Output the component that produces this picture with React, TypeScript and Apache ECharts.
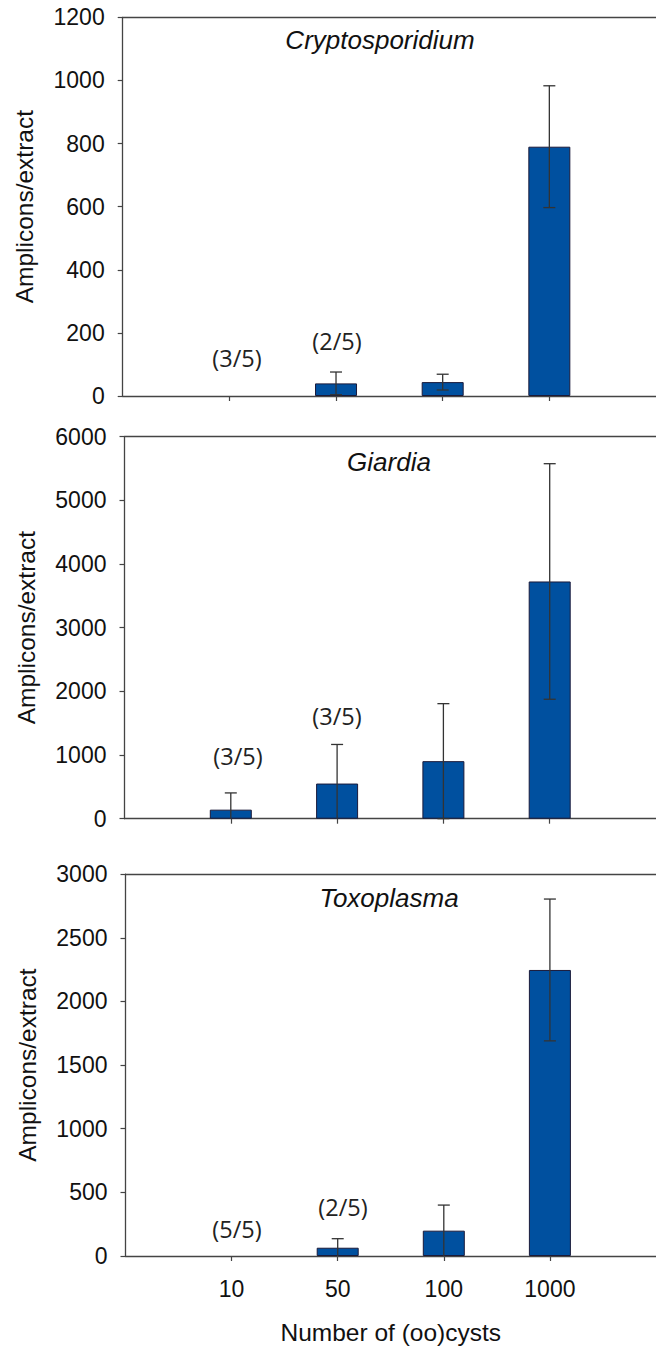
import React, { useEffect, useRef } from "react";
import * as echarts from "echarts";

// ---- data ----
const categories = ["10", "50", "100", "1000"];
const categoryPositions = [1, 2, 3, 4];

const cryptoMeans = [0, 40, 44, 790];
const cryptoErrors = [0, 36, 25, 193];
const cryptoNotes = ["(3/5)", "(2/5)", "", ""];

const giardiaMeans = [142, 552, 904, 3726];
const giardiaErrors = [263, 614, 903, 1850];
const giardiaNotes = ["(3/5)", "(3/5)", "", ""];

const toxoMeans = [0, 65, 199, 2247];
const toxoErrors = [0, 71, 201, 557];
const toxoNotes = ["(5/5)", "(2/5)", "", ""];

const panelTitles = ["Cryptosporidium", "Giardia", "Toxoplasma"];
const yMax = [1200, 6000, 3000];
const yStep = [200, 1000, 500];

const yAxisName = "Amplicons/extract";
const xAxisName = "Number of (oo)cysts";

// ---- layout ----
const W = 656;
const H = 1346;
const grids = [
  { left: 122.7, top: 17.3, width: 536.5, height: 378.7 },
  { left: 124.5, top: 436.7, width: 540, height: 382 },
  { left: 125.5, top: 874.1, width: 543, height: 382.6 },
];
const titlePos = [
  [380, 40],
  [389, 462],
  [389, 898],
];
const notePos = [
  [
    [237, 358],
    [337, 341],
  ],
  [
    [238, 756],
    [337, 716],
  ],
  [
    [237, 1229],
    [343, 1207],
  ],
];

const BAR_COLOR = "#00509f";
const AXIS_COLOR = "#444";
const SANS = "Liberation Sans, Arial, sans-serif";

export default function App() {
  const ref = useRef<HTMLDivElement>(null);

  useEffect(() => {
    if (!ref.current) return;
    const chart = echarts.init(ref.current, null, { renderer: "svg" });

    const panels = [
      { means: cryptoMeans, errs: cryptoErrors, notes: cryptoNotes },
      { means: giardiaMeans, errs: giardiaErrors, notes: giardiaNotes },
      { means: toxoMeans, errs: toxoErrors, notes: toxoNotes },
    ];

    const xAxes: any[] = [];
    const yAxes: any[] = [];
    const series: any[] = [];
    const graphics: any[] = [];

    panels.forEach((p, i) => {
      const last = i === panels.length - 1;
      xAxes.push({
        type: "value",
        gridIndex: i,
        min: 0,
        max: 5,
        interval: 1,
        position: "bottom",
        splitLine: { show: false },
        axisLine: { show: true, lineStyle: { color: AXIS_COLOR, width: 1.3 } },
        axisTick: {
          show: true,
          length: 5,
          customValues: categoryPositions,
          lineStyle: { color: AXIS_COLOR, width: 1.2 },
        },
        axisLabel: {
          show: last,
          customValues: categoryPositions,
          margin: 21,
          fontSize: 23,
          fontFamily: SANS,
          color: "#111",
          formatter: (v: number) => {
            const idx = categoryPositions.indexOf(v);
            return idx >= 0 ? categories[idx] : "";
          },
        },
        name: last ? xAxisName : "",
        nameLocation: "middle",
        nameGap: 64,
        nameTextStyle: { fontSize: 24.5, fontFamily: SANS, color: "#111" },
      });
      xAxes.push({
        type: "value",
        gridIndex: i,
        min: 0,
        max: 5,
        position: "top",
        splitLine: { show: false },
        axisLine: { show: true, lineStyle: { color: AXIS_COLOR, width: 1.3 } },
        axisTick: { show: false },
        axisLabel: { show: false },
      });
      yAxes.push({
        type: "value",
        gridIndex: i,
        min: 0,
        max: yMax[i],
        interval: yStep[i],
        splitLine: { show: false },
        axisLine: { show: true, lineStyle: { color: AXIS_COLOR, width: 1.3 } },
        axisTick: { show: true, length: 5, lineStyle: { color: AXIS_COLOR, width: 1.2 } },
        axisLabel: {
          margin: 18,
          fontSize: 23,
          fontFamily: SANS,
          color: "#111",
          formatter: (v: number) => String(v),
        },
        name: yAxisName,
        nameLocation: "middle",
        nameGap: 86,
        nameTextStyle: { fontSize: 24.5, fontFamily: SANS, color: "#111" },
      });

      series.push({
        type: "bar",
        xAxisIndex: 2 * i,
        yAxisIndex: i,
        barWidth: 42,
        itemStyle: { color: BAR_COLOR, borderColor: "#1a1a3a", borderWidth: 1 },
        data: categoryPositions
          .map((x, k) => [x, p.means[k]])
          .filter((d) => d[1] > 0),
      });

      series.push({
        type: "custom",
        xAxisIndex: 2 * i,
        yAxisIndex: i,
        clip: false,
        z: 5,
        data: categoryPositions
          .map((x, k) => [x, p.means[k], p.errs[k]])
          .filter((d) => d[2] > 0),
        renderItem: (params: any, api: any) => {
          const x = api.value(0);
          const m = api.value(1);
          const e = api.value(2);
          const lowVal = Math.max(0, m - e);
          const hi = api.coord([x, m + e]);
          const lo = api.coord([x, lowVal]);
          const style = { stroke: "#333", lineWidth: 1.3 };
          const cap = 6;
          const children: any[] = [
            { type: "line", shape: { x1: hi[0], y1: hi[1], x2: lo[0], y2: lo[1] }, style },
            { type: "line", shape: { x1: hi[0] - cap, y1: hi[1], x2: hi[0] + cap, y2: hi[1] }, style },
          ];
          if (m - e > 0) {
            children.push({
              type: "line",
              shape: { x1: lo[0] - cap, y1: lo[1], x2: lo[0] + cap, y2: lo[1] },
              style,
            });
          }
          return { type: "group", children };
        },
      });

      graphics.push({
        type: "text",
        x: titlePos[i][0],
        y: titlePos[i][1],
        style: {
          text: panelTitles[i],
          fontSize: 26,
          fontStyle: "italic",
          fontFamily: SANS,
          fill: "#111",
          textAlign: "center",
          textVerticalAlign: "middle",
        },
      });

      let n = 0;
      p.notes.forEach((note) => {
        if (!note) return;
        const pos = notePos[i][n++];
        graphics.push({
          type: "text",
          x: pos[0],
          y: pos[1],
          style: {
            text: note,
            fontSize: 23.5,
            fontFamily: "Open Sans, Noto Sans, sans-serif",
            fill: "#222",
            textAlign: "center",
            textVerticalAlign: "middle",
          },
        });
      });
    });

    chart.setOption({
      animation: false,
      backgroundColor: "#fff",
      grid: grids.map((g) => ({ ...g, containLabel: false })),
      xAxis: xAxes,
      yAxis: yAxes,
      series,
      graphic: graphics,
    });

    return () => chart.dispose();
  }, []);

  return (
    <div
      ref={ref}
      style={{ position: "absolute", left: 0, top: 0, width: W, height: H }}
    />
  );
}
